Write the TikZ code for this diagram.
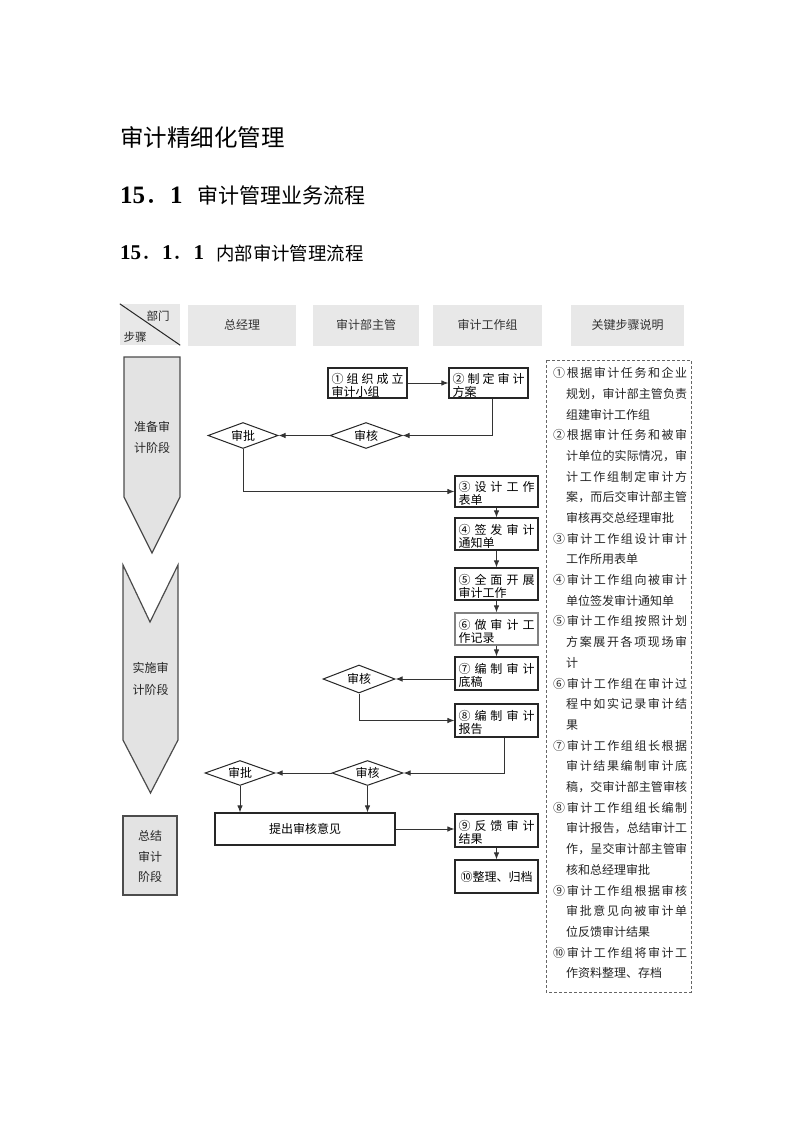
\documentclass[tikz,border=0pt]{standalone}
\usepackage{fontspec}
\setmainfont{Liberation Serif}
\newfontfamily\cjk{Noto Sans CJK SC}
\usetikzlibrary{shapes.geometric,arrows.meta,calc}
\definecolor{hdrgray}{HTML}{E8E8E8}
\definecolor{phasegray}{HTML}{E3E3E3}
\makeatletter
\def\spreadchars#1{\spread@#1\@nil}
\def\spread@#1#2\@nil{#1\ifx\relax#2\relax\else\hfill\spread@#2\@nil\fi}
\makeatother
\newcommand\twol[3]{\vbox{\hsize=#1\baselineskip=13pt\vskip4pt\hbox to #1{\spreadchars{#2}}\hbox{#3}}}
\newcommand\itemline[2]{\node[note] (n#1) at (553,352.3+20.7*#1) {\hbox to 134pt{\spreadchars{#2}}};}
\newcommand\contline[2]{\node[note] (n#1) at (566,352.3+20.7*#1) {\hbox to 121pt{\spreadchars{#2}}};}
\newcommand\natline[2]{\node[note] (n#1) at (566,352.3+20.7*#1) {#2};}
\tikzset{
  hdr/.style={fill=hdrgray, draw=none, minimum height=41pt, inner sep=0pt, font=\cjk\fontsize{12}{14}\selectfont, text=black!80},
  box/.style={draw=black!85, line width=1.2pt, minimum width=83pt, minimum height=31pt, inner sep=0pt, font=\cjk\fontsize{12}{13}\selectfont},
  dia/.style={diamond, draw=black!85, line width=1pt, minimum width=72pt, minimum height=26pt, aspect=2.8, inner sep=0pt, font=\cjk\fontsize{12}{13}\selectfont},
  con/.style={draw=black!80, line width=0.9pt, -{Latex[length=7pt,width=5.5pt]}},
  phase/.style={fill=phasegray, draw=black!70, line width=1.2pt},
  ptxt/.style={inner sep=0pt, font=\cjk\fontsize{12}{14}\selectfont, text=black!85},
  note/.style={anchor=west, inner sep=0pt, font=\cjk\fontsize{12}{13}\selectfont, text=black!85},
}
\begin{document}
\begin{tikzpicture}[x=1pt,y=-1pt]
\useasboundingbox (0,0) rectangle (793,1122);
\fill[white] (0,0) rectangle (793,1122);

% headings
\node[anchor=west, inner sep=0pt, font=\cjk\fontsize{23.5}{26}\selectfont] (title) at (120,137) {审计精细化管理};
\node[anchor=west, inner sep=0pt] (h2num) at (120,195) {\fontsize{25}{28}\selectfont\bfseries 15{\cjk\mdseries ．}1};
\node[anchor=west, inner sep=0pt, font=\cjk\fontsize{21}{24}\selectfont] (h2txt) at (197,195) {审计管理业务流程};
\node[anchor=west, inner sep=0pt] (h3num) at (120,253) {\fontsize{21}{24}\selectfont\bfseries 15{\cjk\mdseries ．}1{\cjk\mdseries ．}1};
\node[anchor=west, inner sep=0pt, font=\cjk\fontsize{18.4}{21}\selectfont] (h3txt) at (216,253) {内部审计管理流程};

% header row
\node[hdr, minimum width=60pt] (corner) at (150,324.5) {};
\draw[line width=1pt, black!85] (corner.north west) -- (corner.south east);
\node[ptxt, font=\cjk\fontsize{11.5}{13}\selectfont] (bumen) at (158,316) {部门};
\node[ptxt, font=\cjk\fontsize{11.5}{13}\selectfont] (buzhou) at (135,337) {步骤};
\node[hdr, minimum width=108pt] (hz) at (242,325) {总经理};
\node[hdr, minimum width=106pt] (hs) at (366,325) {审计部主管};
\node[hdr, minimum width=109pt] (hg) at (487.5,325) {审计工作组};
\node[hdr, minimum width=113pt] (hk) at (627.5,325) {关键步骤说明};

% phase shapes
\draw[phase] (124,357) -- (180,357) -- (180,497) -- (152,553) -- (124,497) -- cycle;
\node[ptxt] (p1a) at (152,427) {准备审};
\node[ptxt] (p1b) at (152,448) {计阶段};
\draw[phase] (123,565) -- (150,622) -- (178,565) -- (178,740) -- (150.5,793) -- (123,740) -- cycle;
\node[ptxt] (p2a) at (150.5,668) {实施审};
\node[ptxt] (p2b) at (150.5,690) {计阶段};
\draw[phase] (123,816) rectangle (177,895);
\node[ptxt] (p3a) at (150,836) {总结};
\node[ptxt] (p3b) at (150,857) {审计};
\node[ptxt] (p3c) at (150,877) {阶段};

% boxes
\node[box, minimum width=79pt, minimum height=30pt] (b1) at (367.5,383) {\twol{72pt}{①组织成立}{审计小组}};
\node[box, minimum width=79pt, minimum height=30pt] (b2) at (488.5,383) {\twol{72pt}{②制定审计}{方案}};
\node[box] (b3) at (496.5,491.5) {\twol{76pt}{③设计工作}{表单}};
\node[box, minimum height=32pt] (b4) at (496.5,534) {\twol{76pt}{④签发审计}{通知单}};
\node[box, minimum height=32pt] (b5) at (496.5,584) {\twol{76pt}{⑤全面开展}{审计工作}};
\node[box, minimum height=32pt, draw=black!50] (b6) at (496.5,629) {\twol{76pt}{⑥做审计工}{作记录}};
\node[box, minimum height=33pt] (b7) at (496.5,673.5) {\twol{76pt}{⑦编制审计}{底稿}};
\node[box, minimum height=33pt] (b8) at (496.5,720.5) {\twol{76pt}{⑧编制审计}{报告}};
\node[box, minimum height=33pt] (b9) at (496.5,830.5) {\twol{76pt}{⑨反馈审计}{结果}};
\node[box, minimum height=33pt] (b10) at (496.5,876.5) {⑩整理、归档};
\node[box, minimum width=180pt, minimum height=32pt] (b11) at (305,829) {提出审核意见};

% diamonds
\node[dia] (d1) at (366,435.5) {审核};
\node[dia, minimum width=70pt] (d2) at (243,435.5) {审批};
\node[dia, minimum height=28pt] (d3) at (359,679) {审核};
\node[dia, minimum width=71pt, minimum height=25pt] (d4) at (367.5,773) {审核};
\node[dia, minimum width=70pt, minimum height=25pt] (d5) at (240,773) {审批};

% connectors
\draw[con] (b1) -- (b2);
\draw[con] ([xshift=4pt]b2.south) |- (d1.east);
\draw[con] (d1) -- (d2);
\draw[con] (d2.south) |- (b3.west);
\draw[con] (b3) -- (b4);
\draw[con] (b4) -- (b5);
\draw[con] (b5) -- (b6);
\draw[con] (b6) -- (b7);
\draw[con] (b7.west |- d3.east) -- (d3.east);
\draw[con] (d3.south) |- (b8.west);
\draw[con] ([xshift=8pt]b8.south) |- (d4.east);
\draw[con] (d4) -- (d5);
\draw[con] (d5.south) -- (d5.south |- b11.north);
\draw[con] (d4.south) -- (d4.south |- b11.north);
\draw[con] (b11.east) -- (b11.east -| b9.west);
\draw[con] (b9) -- (b10);

% key notes
\draw[draw=black!60, line width=1pt, dash pattern=on 3pt off 2pt] (546,360) rectangle (691,992);
\itemline{1}{①根据审计任务和企业}
\contline{2}{规划，审计部主管负责}
\natline{3}{组建审计工作组}
\itemline{4}{②根据审计任务和被审}
\contline{5}{计单位的实际情况，审}
\contline{6}{计工作组制定审计方}
\contline{7}{案，而后交审计部主管}
\natline{8}{审核再交总经理审批}
\itemline{9}{③审计工作组设计审计}
\natline{10}{工作所用表单}
\itemline{11}{④审计工作组向被审计}
\natline{12}{单位签发审计通知单}
\itemline{13}{⑤审计工作组按照计划}
\contline{14}{方案展开各项现场审}
\natline{15}{计}
\itemline{16}{⑥审计工作组在审计过}
\contline{17}{程中如实记录审计结}
\natline{18}{果}
\itemline{19}{⑦审计工作组组长根据}
\contline{20}{审计结果编制审计底}
\contline{21}{稿，交审计部主管审核}
\itemline{22}{⑧审计工作组组长编制}
\contline{23}{审计报告，总结审计工}
\contline{24}{作，呈交审计部主管审}
\natline{25}{核和总经理审批}
\itemline{26}{⑨审计工作组根据审核}
\contline{27}{审批意见向被审计单}
\natline{28}{位反馈审计结果}
\itemline{29}{⑩审计工作组将审计工}
\natline{30}{作资料整理、存档}
\end{tikzpicture}
\end{document}
